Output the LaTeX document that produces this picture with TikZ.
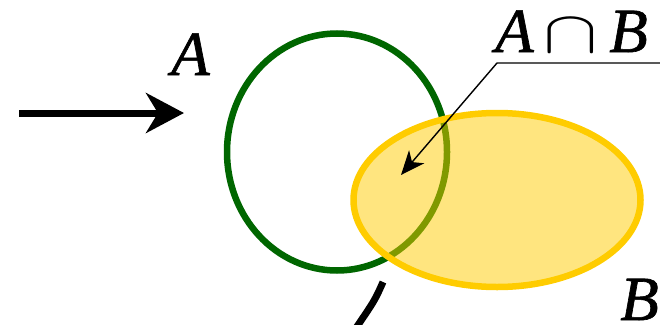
\RequirePackage{fix-cm}
\documentclass[tikz,border=0pt]{standalone}
\usepackage{graphicx}
\usepackage{fontspec}
\setmainfont{Liberation Serif}[ItalicFeatures={FakeBold=1}]
\usetikzlibrary{shapes.geometric,arrows.meta}
\definecolor{setA}{RGB}{0,102,0}
\definecolor{setB}{RGB}{255,204,0}
\tikzset{
  setlabel/.style={inner sep=0pt, font=\fontsize{63}{66}\selectfont\itshape},
  bigarrow/.style={line width=7pt, -{Stealth[length=38pt,width=40pt,inset=12pt]}},
  leader/.style={line width=1.4pt, -{Stealth[length=24pt,width=20pt,inset=7pt]}}
}
\begin{document}
\begin{tikzpicture}[x=1pt,y=-1pt]
\useasboundingbox (0,0) rectangle (660,324);
% set A
\node[ellipse, draw=setA, line width=6.5pt, minimum width=220pt, minimum height=237pt, inner sep=0pt] (circA) at (337,152) {};
% set B
\node[ellipse, draw=setB, fill=setB, fill opacity=0.5, draw opacity=1, line width=6.5pt, minimum width=287pt, minimum height=174pt, inner sep=0pt] (circB) at (497,200) {};
% labels
\node[setlabel, anchor=base west] (labA) at (171,75) {A};
\node[setlabel, anchor=base east] (labB) at (659,320) {B};
\node[setlabel, anchor=base west] (labAB) at (495,52) {A\hspace{10pt}\scalebox{1.3}[0.95]{$\cap$}\hspace{11pt}B};
% big arrow
\coordinate (arrS) at (19,113);
\coordinate (arrE) at (184,113);
\draw[bigarrow] (arrS) -- (arrE);
% leader
\coordinate (leadE) at (662,63);
\coordinate (leadK) at (497,63);
\coordinate (leadT) at (401,175);
\draw[leader] (leadE) -- (leadK) -- (leadT);
% bottom stroke
\coordinate (botS) at (383,282);
\coordinate (botE) at (356,328);
\draw[line width=7pt] (botS) .. controls (375,300) .. (botE);
\end{tikzpicture}
\end{document}
